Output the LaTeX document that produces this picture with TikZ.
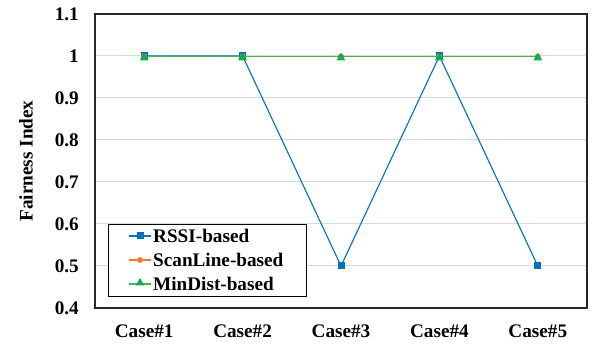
\documentclass[tikz,border=0pt]{standalone}
\usepackage{fontspec}
\setmainfont{Liberation Serif}
\usetikzlibrary{shapes.geometric}
\definecolor{cblue}{HTML}{0070C0}
\definecolor{corange}{HTML}{ED7D31}
\definecolor{cgreen}{HTML}{00B050}
\definecolor{cgline}{HTML}{4CAF50}
\definecolor{cgrid}{HTML}{D9D9D9}
\tikzset{
  lbl/.style={font=\bfseries\fontsize{19.2}{21}\selectfont, inner sep=0pt},
  grid line/.style={draw=cgrid, line width=1pt},
  frame/.style={draw=black!85, line width=1.1pt},
  sq/.style={rectangle, fill=cblue, minimum size=7pt, inner sep=0pt},
  dot/.style={circle, fill=corange, minimum size=6pt, inner sep=0pt},
  tri/.style={regular polygon, regular polygon sides=3, fill=cgreen, minimum size=10pt, inner sep=0pt},
  blueline/.style={draw=cblue, line width=1.1pt},
  orangeline/.style={draw=corange, line width=1.1pt},
  greenline/.style={draw=cgline, line width=1.3pt},
  pt/.style={inner sep=0pt, minimum size=0pt}
}
\begin{document}
\begin{tikzpicture}[x=1pt,y=-1pt]
\useasboundingbox[fill=white] (0,0) rectangle (592,344);
\foreach \v in {0.5,0.6,0.7,0.8,0.9,1.0}{
  \draw[grid line] (95,{308-(\v-0.4)*420}) -- (587,{308-(\v-0.4)*420});
}
\foreach \v/\t in {0.4/0.4,0.5/0.5,0.6/0.6,0.7/0.7,0.8/0.8,0.9/0.9,1.0/1,1.1/1.1}{
  \node[lbl, anchor=east] (y\t) at (79,{308-(\v-0.4)*420}) {\t};
}
\foreach \i in {1,...,5}{
  \node[lbl] (x\i) at ({95+(\i-0.5)*98.4},331) {Case\#\i};
}
\node[lbl, rotate=90] (ytitle) at (26,161) {Fairness Index};
\foreach \i/\v in {1/1,2/1,3/0.5,4/1,5/0.5}{
  \node[pt] (b\i) at ({95+(\i-0.5)*98.4},{308-(\v-0.4)*420}) {};
}
\foreach \i in {1,...,5}{
  \node[pt] (o\i) at ({95+(\i-0.5)*98.4},{308-(0.999-0.4)*420}) {};
  \node[pt] (g\i) at ({95+(\i-0.5)*98.4},{308-(0.998-0.4)*420}) {};
}
\draw[blueline] (b1.center) -- (b2.center) -- (b3.center) -- (b4.center) -- (b5.center);
\foreach \i in {1,...,5}{ \node[sq] at (b\i) {}; }
\draw[orangeline] (o1.center) -- (o2.center) -- (o3.center) -- (o4.center) -- (o5.center);
\foreach \i in {1,...,5}{ \node[dot] at (o\i) {}; }
\draw[greenline] (g1.center) -- (g2.center) -- (g3.center) -- (g4.center) -- (g5.center);
\foreach \i in {1,...,5}{ \node[tri] at ([yshift=-1pt]g\i) {}; }
\draw[frame] (95,14) rectangle (587,308);
\draw[fill=white, draw=black, line width=0.8pt] (108,224) rectangle (306,296);
\coordinate (l1a) at (129,236); \coordinate (l1b) at (151,236);
\coordinate (l2a) at (129,260); \coordinate (l2b) at (151,260);
\coordinate (l3a) at (129,284); \coordinate (l3b) at (151,284);
\draw[blueline] (l1a) -- (l1b); \node[sq] (m1) at (140,236) {};
\draw[orangeline] (l2a) -- (l2b); \node[dot] (m2) at (140,260) {};
\draw[greenline] (l3a) -- (l3b); \node[tri] (m3) at (140,283) {};
\node[lbl, anchor=west] (t1) at (153,236) {RSSI-based};
\node[lbl, anchor=west] (t2) at (153,260) {ScanLine-based};
\node[lbl, anchor=west] (t3) at (153,284) {MinDist-based};
\end{tikzpicture}
\end{document}
